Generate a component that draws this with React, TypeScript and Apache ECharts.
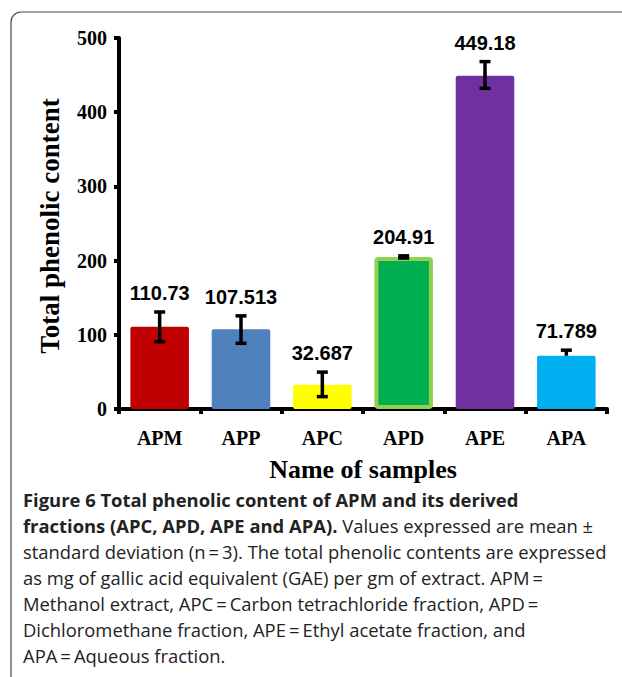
import React, { useEffect, useRef } from "react";
import * as echarts from "echarts";

const categories = ["APM", "APP", "APC", "APD", "APE", "APA"];
const values = [110.73, 107.513, 32.687, 204.91, 449.18, 71.789];
const errUp = [20, 18, 17, 1.5, 19, 7.5];
const errDown = [20, 19, 16, 1.5, 17, 0];
const barColors = ["#C00000", "#4F81BD", "#FFFF00", "#00B050", "#7030A0", "#00B0F0"];
const yTicks = [0, 100, 200, 300, 400, 500];
const captionLines = [
  [{ b: "Figure 6 Total phenolic content of APM and its derived" }],
  [{ b: "fractions (APC, APD, APE and APA)." }, { n: " Values expressed are mean \u00b1" }],
  [{ n: "standard deviation (n\u2009=\u20093). The total phenolic contents are expressed" }],
  [{ n: "as mg of gallic acid equivalent (GAE) per gm of extract. APM\u2009=" }],
  [{ n: "Methanol extract, APC\u2009=\u2009Carbon tetrachloride fraction, APD\u2009=" }],
  [{ n: "Dichloromethane fraction, APE\u2009=\u2009Ethyl acetate fraction, and" }],
  [{ n: "APA\u2009=\u2009Aqueous fraction." }],
];

export default function App() {
  const ref = useRef<HTMLDivElement>(null);
  useEffect(() => {
    document.body.style.margin = "0";
    const chart = echarts.init(ref.current!, null, { renderer: "svg" });
    const serif = "'Liberation Serif', 'Times New Roman', serif";
    const sans = "'Liberation Sans', Arial, sans-serif";
    const capFont = "'Open Sans', sans-serif";

    const captionGraphics = captionLines.map((parts, i) => {
      const text = parts.map((p: any) => (p.b ? `{b|${p.b}}` : `{n|${p.n}}`)).join("");
      return {
        type: "text",
        left: 23,
        top: 490 + i * 26,
        style: {
          text,
          rich: {
            b: { fontFamily: capFont, fontWeight: "bold", fontSize: 18.4, lineHeight: 26, fill: "#222" },
            n: { fontFamily: capFont, fontSize: 18.4, lineHeight: 26, fill: "#222" },
          },
        },
      };
    });

    const option: any = {
      animation: false,
      backgroundColor: "#fff",
      grid: { left: 119, right: 15, top: 38, bottom: 268, containLabel: false },
      xAxis: {
        type: "category",
        data: categories,
        axisLine: { lineStyle: { color: "#000", width: 4 } },
        axisTick: { show: true, length: 5, lineStyle: { color: "#000", width: 4 } },
        axisLabel: { fontFamily: serif, fontWeight: "bold", fontSize: 20, color: "#000", margin: 19 },
        name: "Name of samples",
        nameLocation: "middle",
        nameGap: 47,
        nameTextStyle: { fontFamily: serif, fontWeight: "bold", fontSize: 26, color: "#000" },
      },
      yAxis: {
        type: "value",
        min: yTicks[0],
        max: yTicks[yTicks.length - 1],
        interval: 100,
        splitLine: { show: false },
        axisLine: { show: true, lineStyle: { color: "#000", width: 4 } },
        axisTick: { show: true, length: 5, lineStyle: { color: "#000", width: 4 } },
        axisLabel: { fontFamily: serif, fontWeight: "bold", fontSize: 20, color: "#000", margin: 12 },
      },
      graphic: [
        {
          type: "rect",
          shape: { x: 11, y: 12, width: 800, height: 900, r: 10 },
          style: { fill: "none", stroke: "#444", lineWidth: 1.2 },
          silent: true,
          z: -10,
        },
        {
          type: "text",
          x: 50,
          y: 226,
          rotation: Math.PI / 2,
          style: {
            text: "Total phenolic content",
            fontFamily: serif,
            fontWeight: "bold",
            fontSize: 27,
            fill: "#000",
            align: "center",
            verticalAlign: "middle",
          },
        },
        ...captionGraphics,
      ],
      series: [
        {
          type: "bar",
          barCategoryGap: "28%",
          data: values.map((v, i) => ({
            value: v,
            itemStyle: {
              color: barColors[i],
              borderRadius: 2,
              borderColor: i === 3 ? "#92D050" : barColors[i],
              borderWidth: i === 3 ? 4 : 0,
            },
          })),
          z: 2,
        },
        {
          type: "custom",
          z: 5,
          data: values.map((v, i) => [i, v, errUp[i], errDown[i]]),
          renderItem: (params: any, api: any) => {
            const idx = api.value(0);
            const v = api.value(1);
            const up = api.value(2);
            const dn = api.value(3);
            const top = api.coord([idx, v + up]);
            const bot = api.coord([idx, v - dn]);
            const x = top[0];
            const cap = 5.5;
            const ls = { stroke: "#000", lineWidth: 3.5 };
            const children: any[] = [
              { type: "line", shape: { x1: x, y1: top[1], x2: x, y2: bot[1] }, style: ls },
              { type: "line", shape: { x1: x - cap, y1: top[1], x2: x + cap, y2: top[1] }, style: ls },
            ];
            if (dn > 0) {
              children.push({ type: "line", shape: { x1: x - cap, y1: bot[1], x2: x + cap, y2: bot[1] }, style: ls });
            }
            children.push({
              type: "text",
              style: {
                text: String(values[idx]),
                x,
                y: top[1] - 19,
                align: "center",
                verticalAlign: "middle",
                fontFamily: sans,
                fontWeight: "bold",
                fontSize: 20,
                fill: "#000",
              },
            });
            return { type: "group", children };
          },
        },
      ],
    };
    chart.setOption(option);
    return () => chart.dispose();
  }, []);
  return <div ref={ref} style={{ width: 622, height: 677 }} />;
}
